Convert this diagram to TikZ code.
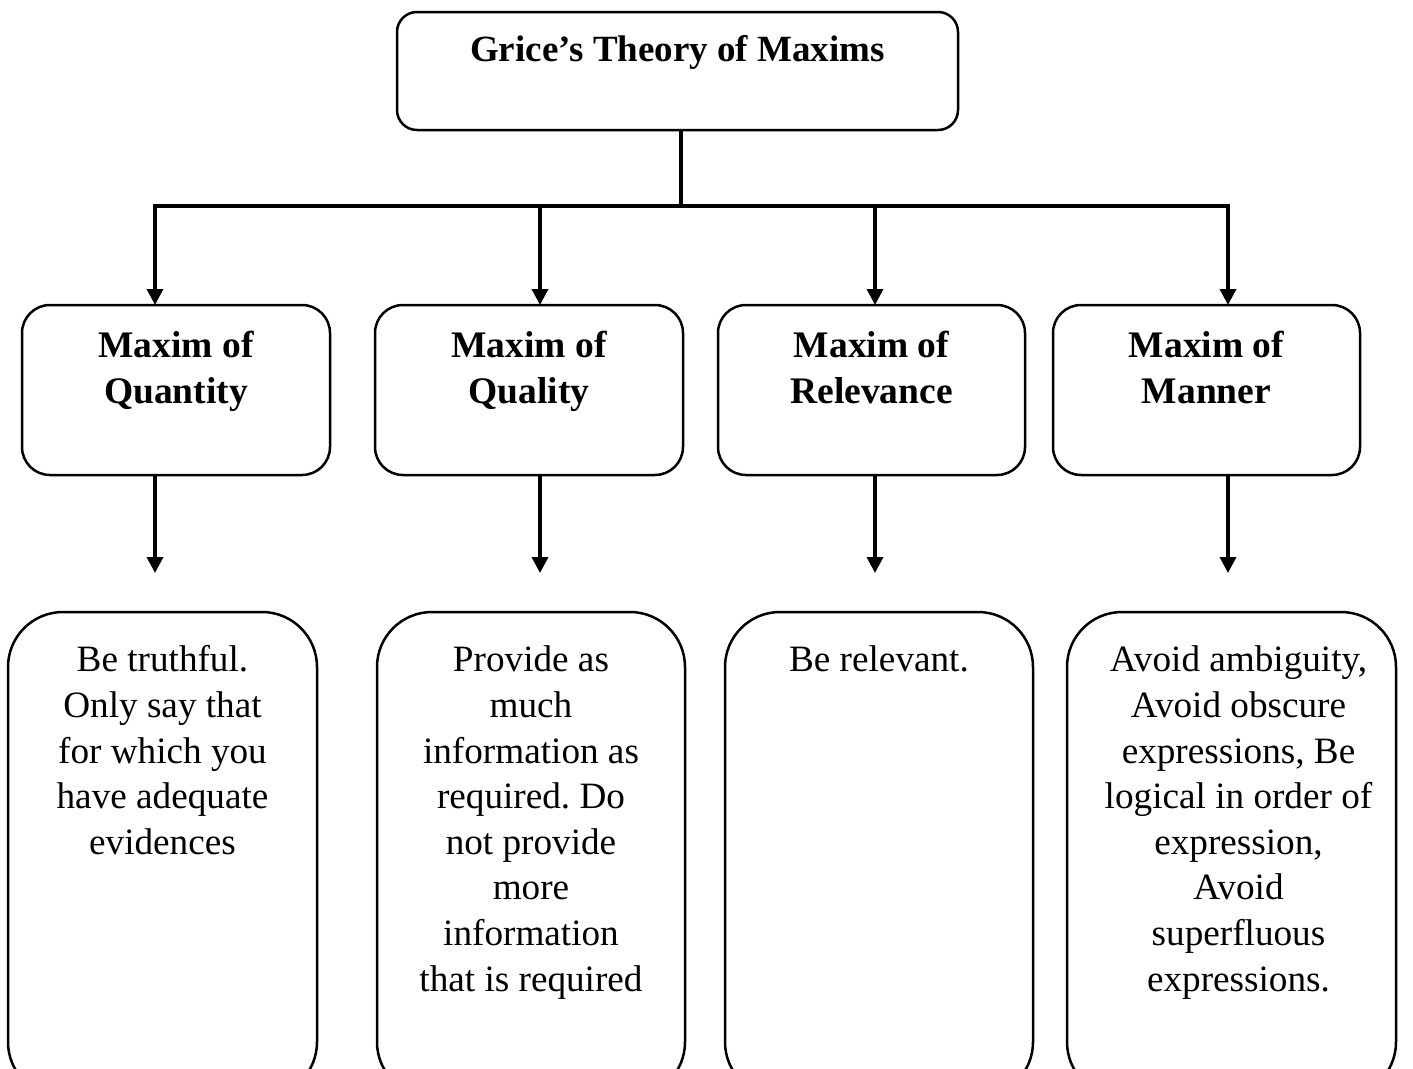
\documentclass[tikz,border=0pt]{standalone}
\usepackage{fontspec}
\setmainfont{Liberation Serif}
\usetikzlibrary{arrows.meta}
\frenchspacing
\begin{document}
\begin{tikzpicture}[x=1pt,y=-1pt,
  rbox/.style={draw, line width=2.5pt, inner sep=0pt, outer sep=0pt, anchor=north west},
  conn/.style={line width=3.5pt},
  arr/.style={conn, -{Triangle[length=16pt,width=16pt]}},
  headfont/.style={font=\bfseries\fontsize{37}{42}\selectfont},
  midfont/.style={font=\bfseries\fontsize{37.5}{46}\selectfont},
  lowfont/.style={font=\fontsize{37.2}{45.6}\selectfont}
]
\useasboundingbox (0,0) rectangle (1413,1068);
\clip (0,0) rectangle (1413,1068);

% top box
\node[rbox, rounded corners=20pt, headfont] (top) at (397,12)
  {\parbox[c][118pt][t]{561pt}{\centering\vspace*{20pt}\strut Grice’s Theory of Maxims}};

% middle boxes
\node[rbox, rounded corners=28pt, midfont] (m1) at (22,305)
  {\parbox[c][170pt][t]{308pt}{\centering\vspace*{20pt}\strut Maxim of\\ Quantity}};
\node[rbox, rounded corners=28pt, midfont] (m2) at (375,305)
  {\parbox[c][170pt][t]{308pt}{\centering\vspace*{20pt}\strut Maxim of\\ Quality}};
\node[rbox, rounded corners=28pt, midfont] (m3) at (718,305)
  {\parbox[c][170pt][t]{307pt}{\centering\vspace*{20pt}\strut Maxim of\\ Relevance}};
\node[rbox, rounded corners=28pt, midfont] (m4) at (1053,305)
  {\parbox[c][170pt][t]{307pt}{\centering\vspace*{20pt}\strut Maxim of\\ Manner}};

% lower boxes (run past the bottom edge)
\node[rbox, rounded corners=55pt, lowfont] (l1) at (8,612)
  {\parbox[c][485pt][t]{309pt}{\centering\vspace*{28pt}\strut Be truthful.\\ Only say that\\ for which you\\ have adequate\\ evidences}};
\node[rbox, rounded corners=55pt, lowfont] (l2) at (377,612)
  {\parbox[c][485pt][t]{308pt}{\centering\vspace*{28pt}\strut Provide as\\ much\\ information as\\ required. Do\\ not provide\\ more\\ information\\ that is required}};
\node[rbox, rounded corners=55pt, lowfont] (l3) at (725,612)
  {\parbox[c][485pt][t]{308pt}{\centering\vspace*{28pt}\strut Be relevant.}};
\node[rbox, rounded corners=55pt, lowfont] (l4) at (1067,612)
  {\parbox[c][485pt][t]{329pt}{\centering\vspace*{28pt}\hspace*{14pt}\strut Avoid ambiguity,\\ \hspace*{14pt}Avoid obscure\\ \hspace*{14pt}expressions, Be\\ \hspace*{14pt}logical in order of\\ \hspace*{14pt}expression,\\ \hspace*{14pt}Avoid\\ \hspace*{14pt}superfluous\\ \hspace*{14pt}expressions.}};

% connectors
\coordinate (hub) at (681,206);
\coordinate (b1) at (155,206);
\coordinate (b2) at (540,206);
\coordinate (b3) at (875,206);
\coordinate (b4) at (1228,206);
\draw[conn] (top.south -| hub) -- (hub);
\draw[conn, line cap=rect] (b1) -- (b4);
\draw[arr] (b1) -- (b1 |- m1.north);
\draw[arr] (b2) -- (b2 |- m2.north);
\draw[arr] (b3) -- (b3 |- m3.north);
\draw[arr] (b4) -- (b4 |- m4.north);

\coordinate (e1) at (155,573);
\coordinate (e2) at (540,573);
\coordinate (e3) at (875,573);
\coordinate (e4) at (1228,573);
\draw[arr] (m1.south -| e1) -- (e1);
\draw[arr] (m2.south -| e2) -- (e2);
\draw[arr] (m3.south -| e3) -- (e3);
\draw[arr] (m4.south -| e4) -- (e4);
\end{tikzpicture}
\end{document}
